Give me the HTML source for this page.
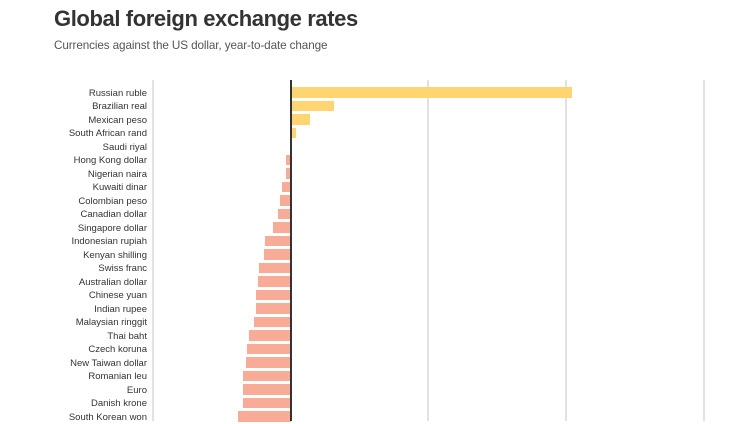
<!DOCTYPE html>
<html><head><meta charset="utf-8"><style>
body{margin:0;background:#fff;width:740px;height:421px;overflow:hidden;font-family:"Liberation Sans",sans-serif;position:relative}
h1{position:absolute;left:54px;top:6px;margin:0;font-size:22px;font-weight:bold;color:#333;letter-spacing:-0.4px}
.sub{position:absolute;left:54px;top:39px;font-size:11.7px;color:#555;letter-spacing:-0.1px}
.g{position:absolute;top:80px;bottom:0;width:2px;background:#e2e2e2}
.z{position:absolute;top:80px;bottom:0;left:290px;width:2px;background:#333}
.l{position:absolute;right:593px;font-size:9.5px;color:#333;white-space:nowrap;line-height:12px}
.b{position:absolute;height:10.5px}
</style></head><body>
<h1>Global foreign exchange rates</h1>
<div class="sub">Currencies against the US dollar, year-to-date change</div>
<div class="g" style="left:152px"></div>
<div class="g" style="left:427px"></div>
<div class="g" style="left:565px"></div>
<div class="g" style="left:703px"></div>
<div id="c"></div>
<div class="z"></div>
<script>
var d=[["Russian ruble",572],["Brazilian real",334],["Mexican peso",310],["South African rand",296],["Saudi riyal",291],["Hong Kong dollar",286],["Nigerian naira",286],["Kuwaiti dinar",282],["Colombian peso",280],["Canadian dollar",278],["Singapore dollar",273],["Indonesian rupiah",265],["Kenyan shilling",264],["Swiss franc",259],["Australian dollar",258],["Chinese yuan",256],["Indian rupee",256],["Malaysian ringgit",254],["Thai baht",249],["Czech koruna",247],["New Taiwan dollar",246],["Romanian leu",243],["Euro",243],["Danish krone",243],["South Korean won",238]];
var h="";d.forEach(function(r,i){var y=87+i*13.5;h+='<div class="l" style="top:'+(y+0.5)+'px">'+r[0]+'</div>';var x=r[1];if(x>291)h+='<div class="b" style="background:#ffd571;top:'+y+'px;left:291px;width:'+(x-291)+'px"></div>';else if(x<291)h+='<div class="b" style="background:#f8ab96;top:'+y+'px;left:'+x+'px;width:'+(291-x)+'px"></div>';});
document.getElementById("c").innerHTML=h;
</script>
</body></html>
